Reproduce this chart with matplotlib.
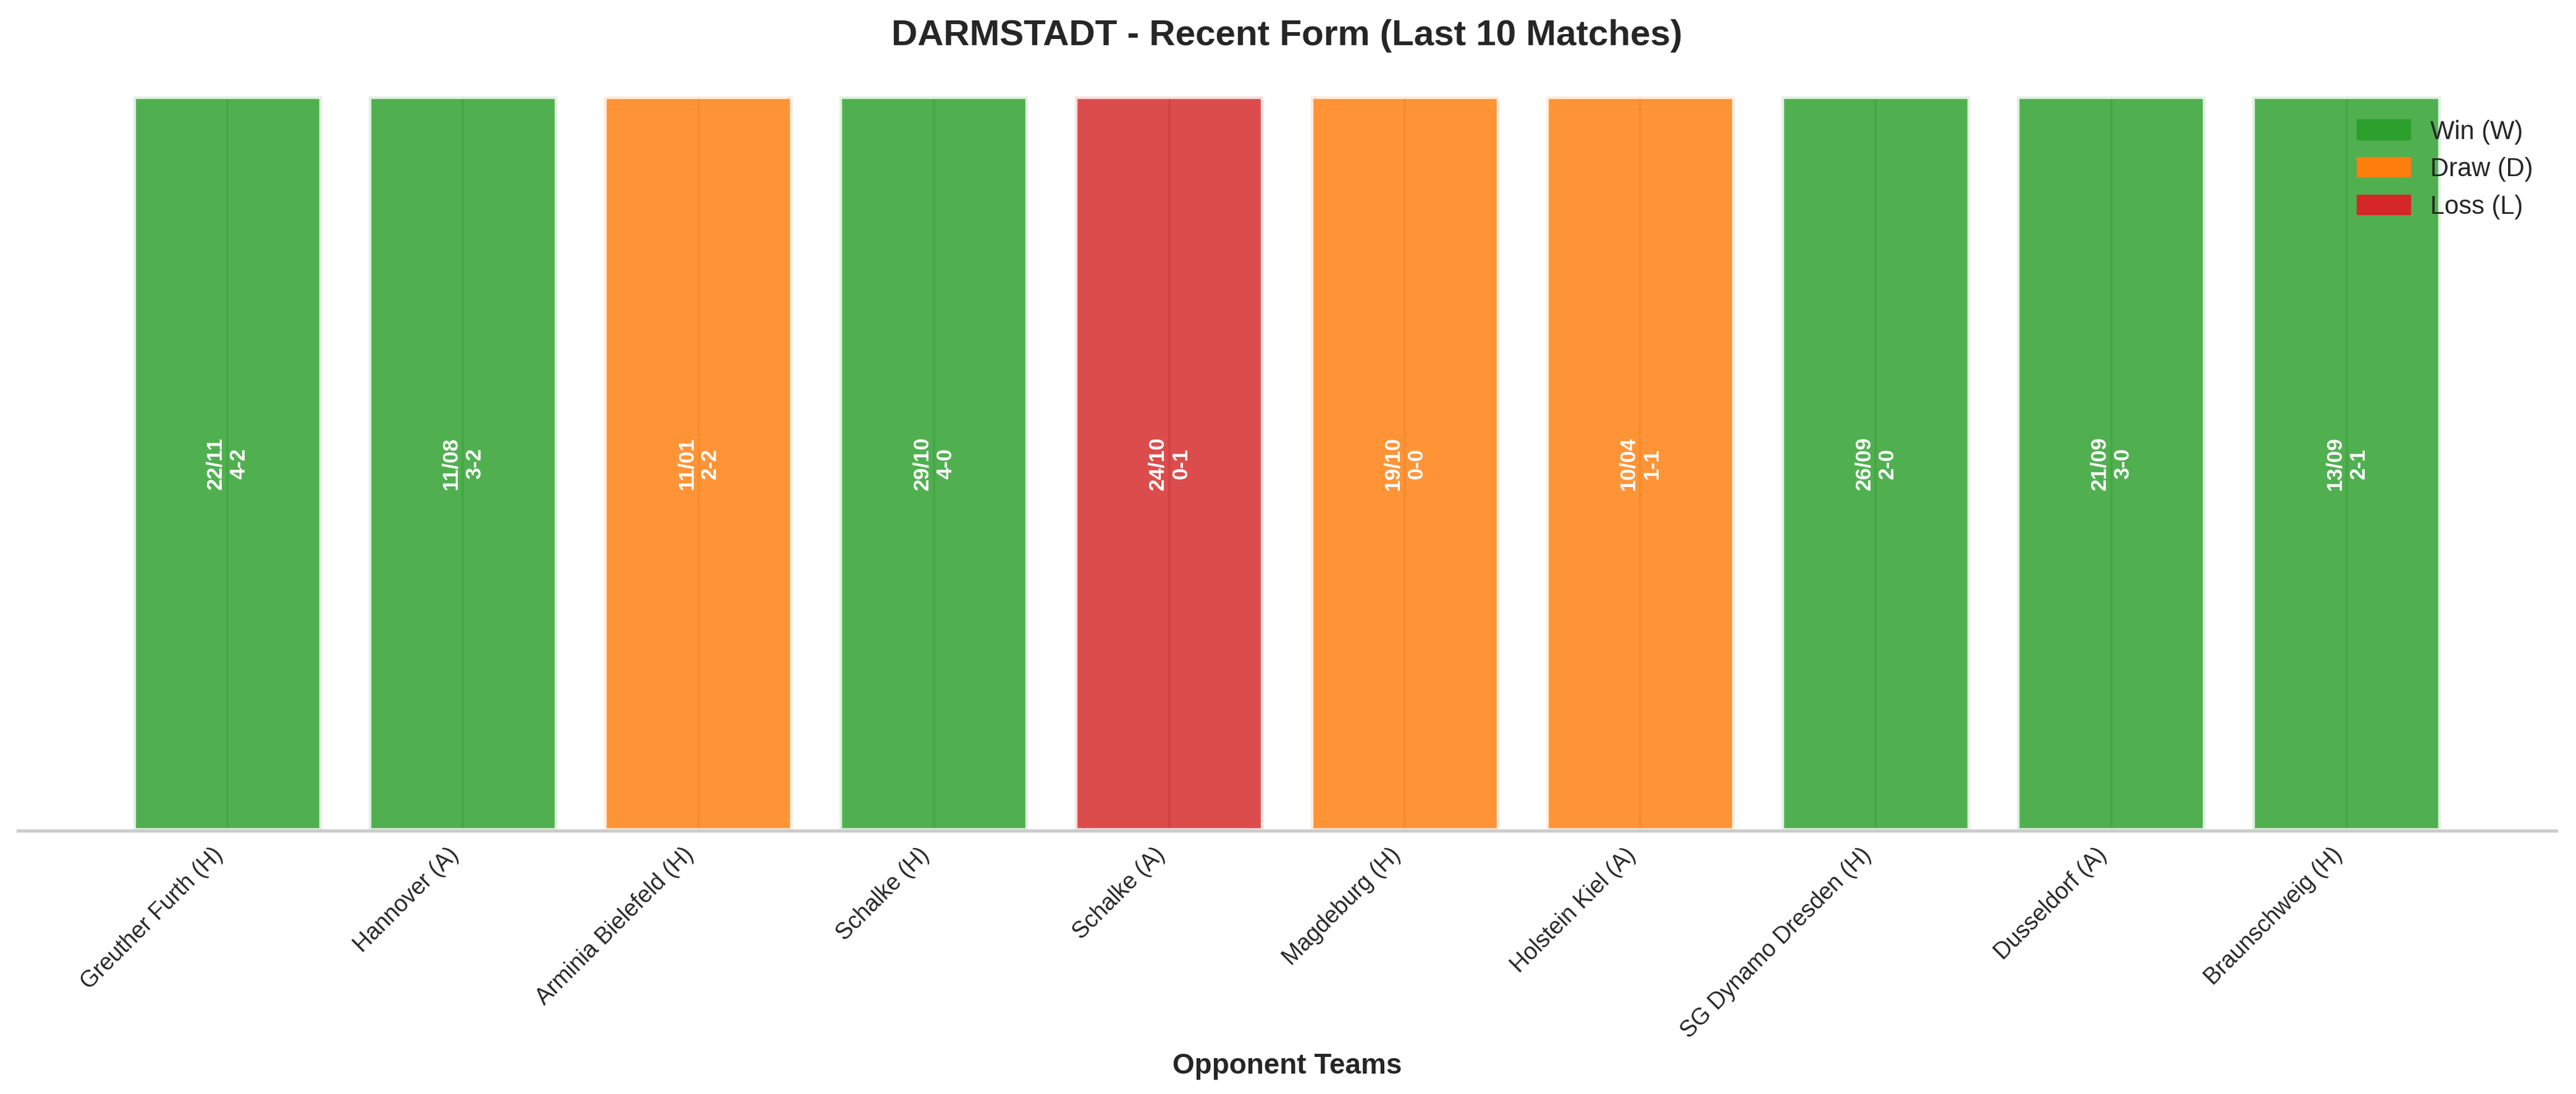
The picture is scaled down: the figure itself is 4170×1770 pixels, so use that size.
import matplotlib
matplotlib.use("Agg")
import matplotlib.pyplot as plt
from matplotlib.patches import Patch

opponents = ["Greuther Furth (H)", "Hannover (A)", "Arminia Bielefeld (H)", "Schalke (H)",
             "Schalke (A)", "Magdeburg (H)", "Holstein Kiel (A)", "SG Dynamo Dresden (H)",
             "Dusseldorf (A)", "Braunschweig (H)"]
results = ["W", "W", "D", "W", "L", "D", "D", "W", "W", "W"]
dates = ["22/11", "11/08", "11/01", "29/10", "24/10", "19/10", "10/04", "26/09", "21/09", "13/09"]
scores = ["4-2", "3-2", "2-2", "4-0", "0-1", "0-0", "1-1", "2-0", "3-0", "2-1"]
heights = [1] * len(opponents)

colors = {"W": "#2ca02c", "D": "#ff7f0e", "L": "#d62728"}
legend_labels = {"W": "Win (W)", "D": "Draw (D)", "L": "Loss (L)"}

plt.rcParams['font.family'] = ['Liberation Sans', 'DejaVu Sans']
plt.rcParams['text.color'] = '#262626'
plt.rcParams['axes.labelcolor'] = '#262626'
plt.rcParams['xtick.color'] = '#262626'

fig = plt.figure(figsize=(13.9, 5.9), dpi=300)
ax = fig.add_axes([29/4170, 1 - 1344/1770, (4138-29)/4170, (1344-156)/1770])
ax.set_axisbelow(True)
ax.grid(axis='x', color='#cccccc', linewidth=1.0)
ax.grid(axis='y', visible=False)

x = list(range(len(opponents)))
bars = ax.bar(x, heights, width=0.8, color=[colors[r] for r in results],
              alpha=0.83, edgecolor='white', linewidth=2)
ax.set_ylim(0, 1)

for xi, d, s in zip(x, dates, scores):
    ax.text(xi, 0.5, f"{d}\n{s}", rotation=90, ha='center', va='center',
            color='white', fontweight='bold', fontsize=8.3)

ax.set_xticks(x)
ax.set_xticklabels(opponents, rotation=45, ha='right', fontsize=9)
ax.tick_params(axis='x', length=0, pad=5)
ax.set_yticks([])
for side in ['top', 'right', 'left']:
    ax.spines[side].set_visible(False)
ax.spines['bottom'].set_color('#cccccc')
ax.spines['bottom'].set_linewidth(1.25)

ax.set_xlabel("Opponent Teams", fontsize=11, fontweight='bold')
ax.set_title("DARMSTADT - Recent Form (Last 10 Matches)", fontsize=14, fontweight='bold', pad=20)

handles = [Patch(color=colors[k], label=legend_labels[k]) for k in ["W", "D", "L"]]
ax.legend(handles=handles, loc='upper right', frameon=False, fontsize=10)

fig.savefig("out.png", dpi=300, facecolor='white')
